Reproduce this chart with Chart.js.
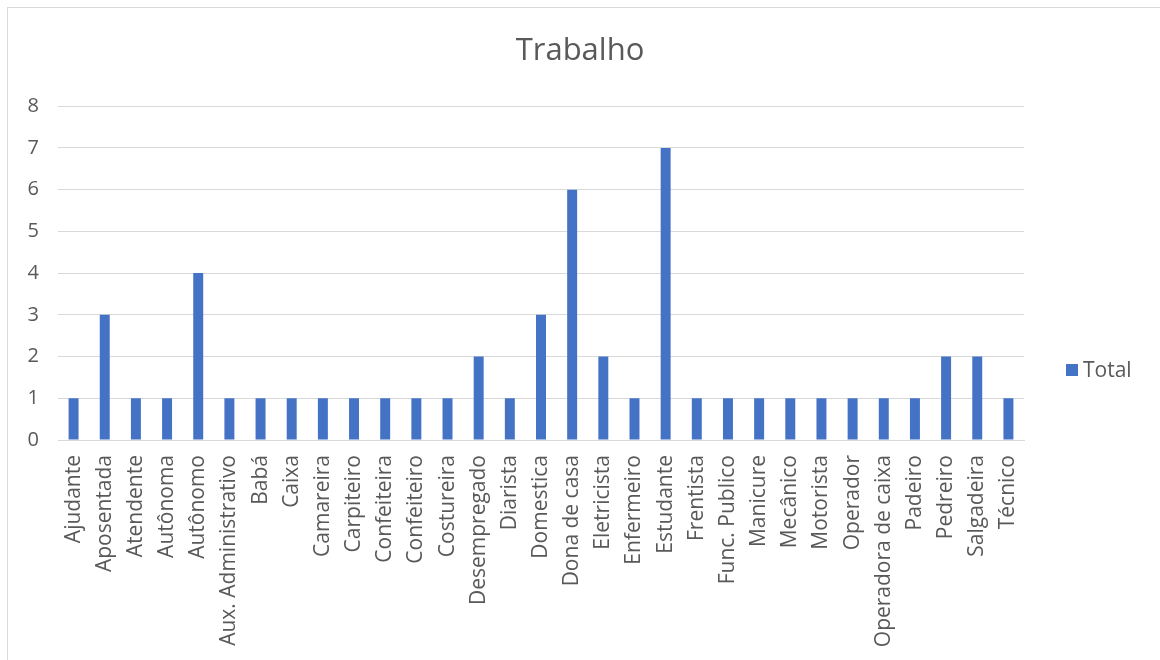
<!DOCTYPE html>
<html>
<head>
<meta charset="utf-8">
<script src="https://cdn.jsdelivr.net/npm/chart.js@4"></script>
<style>
  html, body { margin:0; padding:0; background:#fff; overflow:hidden; }
  #wrap { position:relative; width:1160px; height:660px; }
  #frame { position:absolute; left:7px; top:7px; width:1200px; height:700px; border:1px solid #d9d9d9; box-sizing:border-box; }
  canvas { position:absolute; left:0; top:0; }
</style>
</head>
<body>
<div id="wrap">
  <div id="frame"></div>
  <canvas id="trabalhoChart" width="1160" height="660"></canvas>
</div>
<script>
const categorias = ['Ajudante','Aposentada','Atendente','Autônoma','Autônomo','Aux. Administrativo','Babá','Caixa','Camareira','Carpiteiro','Confeiteira','Confeiteiro','Costureira','Desempregado','Diarista','Domestica','Dona de casa','Eletricista','Enfermeiro','Estudante','Frentista','Func. Publico','Manicure','Mecânico','Motorista','Operador','Operadora de caixa','Padeiro','Pedreiro','Salgadeira','Técnico'];
const totais = [1,3,1,1,4,1,1,1,1,1,1,1,1,2,1,3,6,2,1,7,1,1,1,1,1,1,1,1,2,2,1];
const yMax = 8;

const txt = '#595959';
const grade = '#d9d9d9';
const azul = '#4472C4';
const fonte = "'Open Sans', sans-serif";

// legend drawn by hand so it can sit lower than the plot's middle
const legendaDireita = {
  id: 'legendaDireita',
  afterDraw(chart) {
    const ctx = chart.ctx;
    const ds = chart.data.datasets[0];
    ctx.save();
    ctx.fillStyle = ds.backgroundColor;
    ctx.fillRect(1066, 364, 12, 12);
    ctx.fillStyle = txt;
    ctx.font = '21px ' + fonte;
    ctx.textBaseline = 'middle';
    ctx.textAlign = 'left';
    ctx.fillText(ds.label, 1083, 371);
    ctx.restore();
  }
};

new Chart(document.getElementById('trabalhoChart'), {
  type: 'bar',
  data: {
    labels: categorias,
    datasets: [{ label: 'Total', data: totais, backgroundColor: azul, categoryPercentage: 1, barPercentage: 0.32 }]
  },
  options: {
    responsive: false,
    animation: false,
    layout: { padding: 0 },
    plugins: {
      legend: { display: false },
      tooltip: { enabled: false },
      title: {
        display: true,
        text: 'Trabalho',
        color: txt,
        font: { family: fonte, size: 31, weight: 'normal' },
        padding: { top: 33, bottom: 36 }
      }
    },
    scales: {
      x: {
        grid: { display: false, drawTicks: false },
        border: { display: true, color: grade, width: 1 },
        ticks: { color: txt, font: { family: fonte, size: 21 }, minRotation: 90, maxRotation: 90, autoSkip: false, padding: 15 },
        afterFit(s) { s.height = 220; }
      },
      y: {
        min: 0, max: yMax,
        grid: { color: grade, drawTicks: false },
        border: { display: false },
        ticks: { stepSize: 1, color: txt, font: { family: fonte, size: 20 }, padding: 19 },
        afterFit(s) { s.width = 58; }
      },
      // empty right column that leaves room for the legend
      margem: {
        type: 'linear', position: 'right', display: true,
        grid: { display: false }, border: { display: false }, ticks: { display: false },
        afterFit(s) { s.width = 136; }
      }
    }
  },
  plugins: [legendaDireita]
});
</script>
</body>
</html>
